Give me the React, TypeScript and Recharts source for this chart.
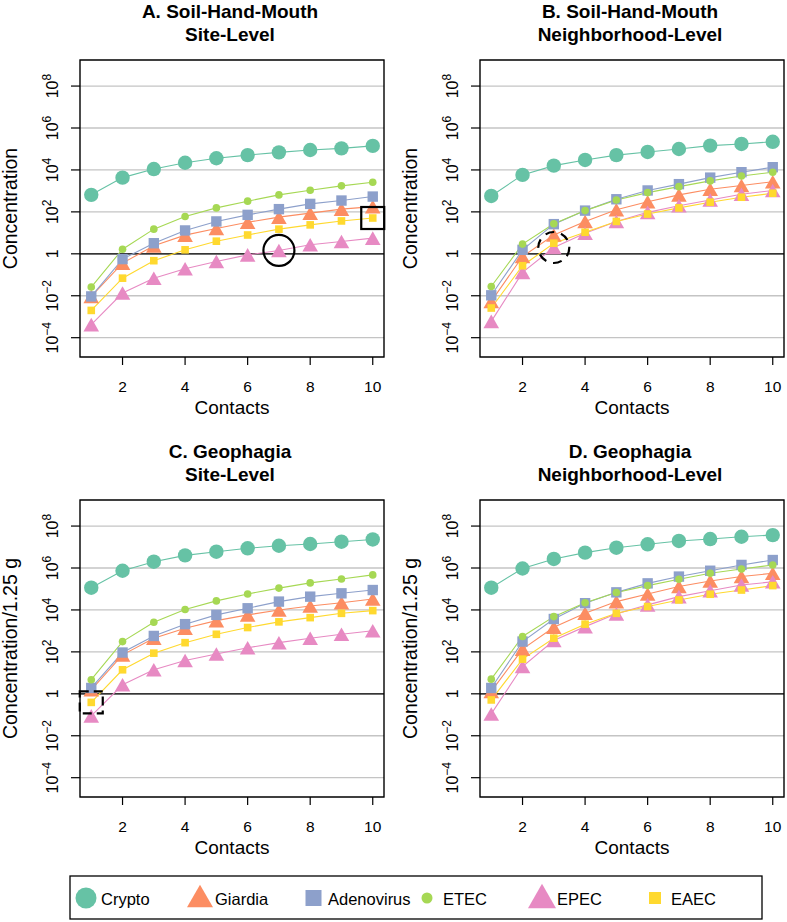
import React from 'react'
import { LineChart, Line, XAxis, YAxis, CartesianGrid, ReferenceLine, ReferenceDot } from 'recharts'

const FONT = '"Liberation Sans", Arial, sans-serif'

const CONTACTS = [1, 2, 3, 4, 5, 6, 7, 8, 9, 10]
const X_TICKS = [2, 4, 6, 8, 10]
const Y_TICKS = [1e-4, 1e-2, 1, 1e2, 1e4, 1e6, 1e8]

// A. soil-hand-mouth, site level
const A_CRYPTO = [650, 4300, 11000, 22000, 36000, 51000, 69000, 89000, 107000, 140000]
const A_GIARDIA = [0.0093, 0.36, 2.4, 7.8, 16, 32, 56, 87, 135, 178]
const A_ADENO = [0.0093, 0.56, 3.2, 13, 35, 72, 135, 240, 347, 537]
const A_ETEC = [0.026, 1.66, 15, 60, 155, 324, 645, 1070, 1740, 2600]
const A_EPEC = [0.00042, 0.0135, 0.069, 0.195, 0.43, 0.89, 1.45, 2.7, 3.9, 5.6]
const A_EAEC = [0.002, 0.069, 0.47, 1.55, 4, 7.9, 15, 24, 37, 51]

// B. soil-hand-mouth, neighborhood level
const B_CRYPTO = [575, 5800, 16000, 30000, 51000, 72000, 100000, 145000, 174000, 220000]
const B_GIARDIA = [0.0054, 0.74, 7.9, 35, 126, 302, 645, 1200, 1800, 2750]
const B_ADENO = [0.0105, 1.55, 26, 115, 400, 1050, 2100, 4300, 7800, 13500]
const B_ETEC = [0.0275, 2.9, 27, 115, 370, 830, 1600, 3000, 5100, 7800]
const B_EPEC = [0.0006, 0.13, 2, 9.5, 35, 95, 195, 370, 690, 1050]
const B_EAEC = [0.0026, 0.27, 3.2, 10.7, 35, 79, 155, 290, 500, 775]

// C. geophagia, site level
const C_CRYPTO = [115000, 740000, 2000000, 4000000, 6000000, 8700000, 11500000, 14000000, 18000000, 23000000]
const C_GIARDIA = [1.55, 72, 450, 1350, 3100, 5800, 10000, 15500, 22000, 33000]
const C_ADENO = [1.9, 93, 575, 2100, 5800, 12000, 25000, 43000, 62000, 89000]
const C_ETEC = [4.7, 310, 2600, 10500, 27000, 58000, 110000, 195000, 300000, 470000]
const C_EPEC = [0.089, 2.7, 14, 39, 79, 158, 275, 450, 690, 1020]
const C_EAEC = [0.39, 14, 87, 275, 690, 1450, 2700, 4300, 6900, 9300]

// D. geophagia, neighborhood level
const D_CRYPTO = [115000, 950000, 2700000, 5400000, 9300000, 13500000, 19500000, 24000000, 31000000, 37000000]
const D_GIARDIA = [1.3, 135, 1500, 6900, 25000, 58000, 130000, 240000, 390000, 560000]
const D_ADENO = [1.9, 310, 3700, 21000, 69000, 185000, 390000, 740000, 1400000, 2400000]
const D_ETEC = [5, 540, 4800, 22000, 68000, 145000, 290000, 560000, 890000, 1400000]
const D_EPEC = [0.11, 20, 350, 1600, 6500, 17500, 43000, 83000, 155000, 220000]
const D_EAEC = [0.51, 45, 450, 2100, 6900, 14500, 30000, 56000, 89000, 145000]

type Kind = 'circle' | 'triangle' | 'square'
const SERIES: { name: string; color: string; kind: Kind; size: number }[] = [
  { name: 'Crypto', color: '#66C2A5', kind: 'circle', size: 7.2 },
  { name: 'Giardia', color: '#FC8D62', kind: 'triangle', size: 7.8 },
  { name: 'Adenovirus', color: '#8DA0CB', kind: 'square', size: 5.2 },
  { name: 'ETEC', color: '#A6D854', kind: 'circle', size: 3.8 },
  { name: 'EPEC', color: '#E78AC3', kind: 'triangle', size: 7.8 },
  { name: 'EAEC', color: '#FFD92F', kind: 'square', size: 3.8 },
]

const PANELS = [
  {
    id: 'A', title: ['A. Soil-Hand-Mouth', 'Site-Level'], ylabel: 'Concentration',
    left: 0, top: 0, width: 393, axisW: 80,
    values: [A_CRYPTO, A_GIARDIA, A_ADENO, A_ETEC, A_EPEC, A_EAEC],
    marks: [
      { x: 7, y: A_EPEC[6], kind: 'circle', dashed: false },
      { x: 10, y: A_EAEC[9], kind: 'square', dashed: false },
    ],
  },
  {
    id: 'B', title: ['B. Soil-Hand-Mouth', 'Neighborhood-Level'], ylabel: 'Concentration',
    left: 393, top: 0, width: 394, axisW: 87,
    values: [B_CRYPTO, B_GIARDIA, B_ADENO, B_ETEC, B_EPEC, B_EAEC],
    marks: [{ x: 3, y: B_EPEC[2], kind: 'circle', dashed: true }],
  },
  {
    id: 'C', title: ['C. Geophagia', 'Site-Level'], ylabel: 'Concentration/1.25 g',
    left: 0, top: 440, width: 393, axisW: 80,
    values: [C_CRYPTO, C_GIARDIA, C_ADENO, C_ETEC, C_EPEC, C_EAEC],
    marks: [{ x: 1, y: C_EAEC[0], kind: 'square', dashed: true }],
  },
  {
    id: 'D', title: ['D. Geophagia', 'Neighborhood-Level'], ylabel: 'Concentration/1.25 g',
    left: 393, top: 440, width: 394, axisW: 87,
    values: [D_CRYPTO, D_GIARDIA, D_ADENO, D_ETEC, D_EPEC, D_EAEC],
    marks: [],
  },
]

const CHART_H = 420
const PLOT_TOP = 60
const PLOT_W = 304
const X_AXIS_H = 63

function Marker({ cx, cy, kind, size, color }: any) {
  if (cx == null || cy == null) return null
  if (kind === 'circle') return <circle cx={cx} cy={cy} r={size} fill={color} />
  if (kind === 'square') return <rect x={cx - size} y={cy - size} width={size * 2} height={size * 2} fill={color} />
  const h = size * 0.87
  return <polygon points={`${cx},${cy - h} ${cx - size},${cy + h} ${cx + size},${cy + h}`} fill={color} />
}

function YTick({ x, y, payload }: any) {
  const e = Math.round(Math.log10(payload.value))
  return (
    <g transform={`translate(${x},${y}) rotate(-90)`}>
      <text textAnchor="middle" fontSize={16} fontFamily={FONT} fill="#000">
        {e === 0 ? '1' : (
          <>
            10<tspan dy={-7} fontSize={12}>{e < 0 ? `\u2212${-e}` : e}</tspan>
          </>
        )}
      </text>
    </g>
  )
}

function XTick({ x, y, payload }: any) {
  return (
    <text x={x} y={y} textAnchor="middle" fontSize={15.5} fontFamily={FONT} fill="#000">
      {payload.value}
    </text>
  )
}

function Panel({ p }: { p: (typeof PANELS)[number] }) {
  const rows = CONTACTS.map((c, i) => {
    const r: Record<string, number> = { contacts: c }
    SERIES.forEach((s, k) => { r[s.name] = p.values[k][i] })
    return r
  })
  const plotLeft = p.axisW
  return (
    <div style={{ position: 'absolute', left: p.left, top: p.top }}>
      <LineChart
        width={p.width}
        height={CHART_H}
        data={rows}
        margin={{ top: PLOT_TOP, right: p.width - p.axisW - PLOT_W, left: 0, bottom: 0 }}
      >
        <CartesianGrid horizontal vertical={false} stroke="#C4C4C4" strokeWidth={1.3} />
        <XAxis
          dataKey="contacts" type="number" domain={[0.64, 10.36]} ticks={X_TICKS}
          height={X_AXIS_H} axisLine={false} tickSize={8} tickMargin={27}
          tickLine={{ stroke: '#000', strokeWidth: 1.2 }} tick={<XTick />} allowDataOverflow
        />
        <YAxis
          type="number" scale="log" domain={[1.2e-5, 1.75e9]} ticks={Y_TICKS}
          width={p.axisW} axisLine={false} tickSize={9} tickMargin={13}
          tickLine={{ stroke: '#000', strokeWidth: 1.2 }} tick={<YTick />} allowDataOverflow
        />
        <ReferenceLine y={1} stroke="#000" strokeWidth={1.3} />
        {SERIES.map((s) => (
          <Line
            key={s.name}
            dataKey={s.name}
            stroke={s.color}
            strokeWidth={1.1}
            isAnimationActive={false}
            activeDot={false}
            dot={(d: any) => <Marker key={`${s.name}-${d.index}`} cx={d.cx} cy={d.cy} kind={s.kind} size={s.size} color={s.color} />}
          />
        ))}
        {p.marks.map((m, i) => (
          <ReferenceDot
            key={i}
            x={m.x}
            y={m.y}
            ifOverflow="visible"
            shape={(d: any) =>
              m.kind === 'circle' ? (
                <circle cx={d.cx} cy={d.cy} r={15.5} fill="none" stroke="#000" strokeWidth={2.2}
                  strokeDasharray={m.dashed ? '9 7' : undefined} />
              ) : (
                <rect x={d.cx - 11.5} y={d.cy - 11} width={23} height={22} fill="none" stroke="#000" strokeWidth={2.2}
                  strokeDasharray={m.dashed ? '9 5' : undefined} />
              )
            }
          />
        ))}
      </LineChart>
      <svg width={p.width} height={CHART_H} style={{ position: 'absolute', left: 0, top: 0, pointerEvents: 'none' }}>
        <rect x={plotLeft} y={PLOT_TOP} width={PLOT_W} height={CHART_H - X_AXIS_H - PLOT_TOP} fill="none" stroke="#000" strokeWidth={1.4} />
        <g fontFamily={FONT} fill="#000" textAnchor="middle">
          <text x={plotLeft + PLOT_W / 2 - 2} y={18} fontSize={19} fontWeight="bold">{p.title[0]}</text>
          <text x={plotLeft + PLOT_W / 2 - 2} y={41} fontSize={19} fontWeight="bold">{p.title[1]}</text>
          <text x={plotLeft + PLOT_W / 2} y={CHART_H - 6.5} fontSize={19}>Contacts</text>
          <text transform={`translate(${plotLeft - 63},${(PLOT_TOP + CHART_H - X_AXIS_H) / 2}) rotate(-90)`} fontSize={19.5}>
            {p.ylabel}
          </text>
        </g>
      </svg>
    </div>
  )
}

const LEGEND_POS = [
  { cx: 86, text: 101, w: 10.5 },
  { cx: 200, text: 215, w: 13 },
  { cx: 313.5, text: 328, w: 8 },
  { cx: 427, text: 443, w: 5.5 },
  { cx: 542, text: 557, w: 14 },
  { cx: 655, text: 671, w: 6 },
]

function Legend() {
  return (
    <svg width={787} height={922} style={{ position: 'absolute', left: 0, top: 0, pointerEvents: 'none' }}>
      <rect x={70} y={876} width={692} height={43} fill="none" stroke="#000" strokeWidth={1.3} />
      {SERIES.map((s, i) => {
        const l = LEGEND_POS[i]
        return (
          <g key={s.name}>
            <Marker cx={l.cx} cy={s.kind === 'triangle' ? 896 : 898} kind={s.kind} size={l.w} color={s.color} />
            <text x={l.text} y={905} fontSize={16.5} fontFamily={FONT} fill="#000">{s.name}</text>
          </g>
        )
      })}
    </svg>
  )
}

export default function App() {
  return (
    <div style={{ position: 'absolute', left: 0, top: 0, width: 787, height: 922, background: '#fff', fontFamily: FONT }}>
      {PANELS.map((p) => <Panel key={p.id} p={p} />)}
      <Legend />
    </div>
  )
}
